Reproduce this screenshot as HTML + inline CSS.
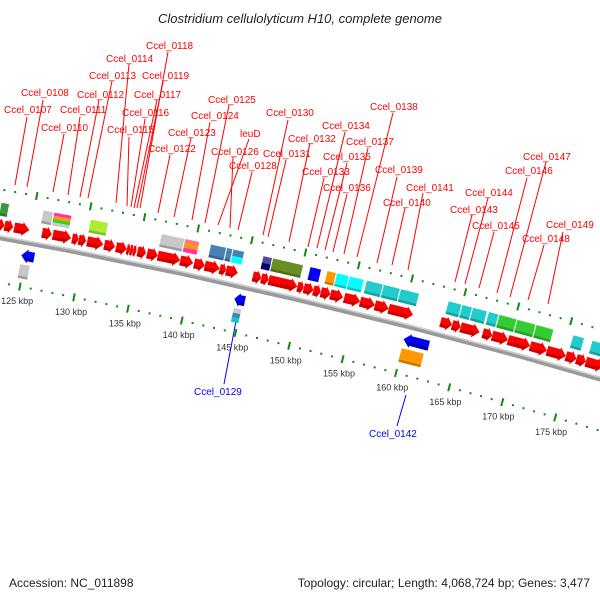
<!DOCTYPE html>
<html><head><meta charset="utf-8"><style>
html,body{margin:0;padding:0;background:#fff;}
svg{display:block;font-family:"Liberation Sans",sans-serif;}
</style></head><body>
<svg id="chart" width="600" height="600" viewBox="0 0 600 600">
<text x="300" y="23" text-anchor="middle" font-size="13" font-style="italic" fill="#222">Clostridium cellulolyticum H10, complete genome</text>
<g id="labels"></g>
<g id="map"></g>
<text x="9" y="587" font-size="12" fill="#222">Accession: NC_011898</text>
<text x="590" y="587" font-size="12" fill="#222" text-anchor="end">Topology: circular; Length: 4,068,724 bp; Genes: 3,477</text>
</svg>
<script>
// ---- data (kbp) ----
const fwdStarts=[121.8,122.6,123.5,126.1,127.1,128.9,129.5,130.3,131.9,133.0,134.0,134.3,134.6,135.0,135.9,136.9,139.0,140.3,141.3,142.7,143.3,145.8,146.6,147.3,150.0,150.6,151.5,152.2,153.1,154.4,155.9,157.3,158.6,163.5,164.6,165.4,167.5,168.4,169.9,172.0,173.6,175.4,176.4,177.3];
const fwdEnds=[122.6,123.4,124.9,127.0,128.8,129.5,130.2,131.8,132.9,134.0,134.3,134.6,134.9,135.8,136.9,139.0,140.2,141.3,142.7,143.3,144.4,146.6,147.3,150.0,150.6,151.5,152.2,153.1,154.3,155.9,157.3,158.6,160.9,164.6,165.4,167.2,168.4,169.9,172.0,173.6,175.4,176.4,177.3,179.0];
const fwdBoxStarts=[121.9,125.8,126.8,130.2,136.8,139.0,141.4,142.9,143.5,146.3,147.2,150.7,152.3,153.2,154.4,156.0,157.6,159.2,163.7,165.0,166.0,167.5,168.5,170.2,172.0,175.5,177.3];
const fwdBoxEnds=[122.7,126.8,128.5,131.9,139.0,140.4,142.9,143.5,144.6,147.2,150.1,151.8,153.2,154.4,155.8,157.6,159.2,161.0,165.0,166.0,167.4,168.5,170.2,172.0,173.7,176.6,178.8];
const fwdBoxColors=["#3a9a3a","#c8c8c8","stripeA","#aaee33","#c8c8c8","stripeB","#4682b4","#4682b4","splitC","splitD","#6b8e23","#0000ff","#ff9900","#00ffff","#00ffff","#22cccc","#22cccc","#22cccc","#22cccc","#22cccc","#22cccc","#22cccc","#33cc33","#33cc33","#33cc33","#22cccc","#22cccc"];
const revStarts=[124.6,144.6,160.6];
const revEnds=[125.8,145.6,163.0];
const revBoxStarts=[124.6,144.7,160.6];
const revBoxEnds=[125.6,145.5,162.8];
const revBoxColors=["#c8c8c8","splitE","#ff9900"];
const tickLabels=[125,130,135,140,145,150,155,160,165,170,175];

// ---- geometry ----
const R=6000, a0=10.3*Math.PI/180, U0=29, PX=10.9;
const B0=[0,235];
const C=[B0[0]-R*Math.sin(a0), B0[1]+R*Math.cos(a0)];
function uOf(k){return U0+(k-125)*PX;}
function pt(k,v){const a=a0+uOf(k)/R;const r=R-v;return [C[0]+r*Math.sin(a),C[1]-r*Math.cos(a)];}
// inner (lower) tick row is drawn with slightly wider spacing in the reference
function ptIn(k,v){const u=U0+(k-125)*PX*1.02;const a=a0+u/R;const r=R-(v+(k-125)*0.1);return [C[0]+r*Math.sin(a),C[1]-r*Math.cos(a)];}
const NS='http://www.w3.org/2000/svg';
const map=document.getElementById('map');
function el(tag,attrs,parent){const e=document.createElementNS(NS,tag);for(const k in attrs)e.setAttribute(k,attrs[k]);(parent||map).appendChild(e);return e;}
function poly(pts,fill,parent){return el('polygon',{points:pts.map(p=>p[0].toFixed(1)+','+p[1].toFixed(1)).join(' '),fill:fill},parent);}
function band(k1,k2,v1,v2,fill){const n=6,pts=[];for(let i=0;i<=n;i++)pts.push(pt(k1+(k2-k1)*i/n,v1));for(let i=n;i>=0;i--)pts.push(pt(k1+(k2-k1)*i/n,v2));return poly(pts,fill);}

// backbone
const bb=band(118,182,0,5,'#9a9a9a');


const bbt=band(118,182,0,1.5,'#cfcfcf');



// ticks
function tickRow(v,name,f){
  for(let k=118;k<=182;k++){
    let e;
    if(k%5===0){const p1=f(k,v-4),p2=f(k,v+4);e=el('line',{x1:p1[0],y1:p1[1],x2:p2[0],y2:p2[1],stroke:'#118811','stroke-width':2});}
    else{const p=f(k,v);e=el('rect',{x:p[0]-1,y:p[1]-1,width:2,height:2,fill:'#118811'});}
    
    
  }
}
tickRow(-45,'outer-tick',pt);
tickRow(47,'inner-tick',ptIn);
tickLabels.forEach(k=>{const p=ptIn(k,62);const t=el('text',{x:p[0],y:p[1]+3,'font-size':9,'text-anchor':'middle',fill:'#333'});t.textContent=k+' kbp';
  
  });

// arrows
function arrow(k1,k2,v1,v2,dir,fill,shade){
  const lenPx=(k2-k1)*PX;const hd=Math.min(7,lenPx*0.5)/PX;const vm=(v1+v2)/2;
  let pts;
  if(dir>0){pts=[pt(k1,v1+2),pt(k2-hd,v1+2),pt(k2-hd,v1),pt(k2,vm),pt(k2-hd,v2),pt(k2-hd,v2-2),pt(k1,v2-2)];}
  else{pts=[pt(k2,v1+2),pt(k1+hd,v1+2),pt(k1+hd,v1),pt(k1,vm),pt(k1+hd,v2),pt(k1+hd,v2-2),pt(k2,v2-2)];}
  const g=poly(pts,fill);
  let sp;
  if(dir>0){sp=[pt(k1,vm+2),pt(k2-hd*0.3,vm+1),pt(k2-hd,v2),pt(k2-hd,v2-2),pt(k1,v2-2)];}
  else{sp=[pt(k2,vm+2),pt(k1+hd*0.3,vm+1),pt(k1+hd,v2),pt(k1+hd,v2-2),pt(k2,v2-2)];}
  const s=poly(sp,shade);
  return g;
}
fwdStarts.forEach((s,i)=>{const g=arrow(s,fwdEnds[i],-17,-3,1,'#ff0000','#cc0000');
  
  });
revStarts.forEach((s,i)=>{const g=arrow(s,revEnds[i],9,23,-1,'#0000ff','#0000b0');
  
  });

function cogBox(k1,k2,v1,v2,c){
  const gap=0.05;k1+=gap;k2-=gap;
  const stacks={stripeA:['#ff33aa','#ff9900','#33cc33','#c8c8c8'],stripeB:['#ff7777','#ff9900','#ff33aa'],splitC:['#4682b4','#00ffff'],splitD:['#4b4b9a','#000080'],splitE:['#c8c8c8','#4682b4','#00cccc']};
  if(stacks[c]){const cs=stacks[c];const h=(v2-v1)/cs.length;cs.forEach((cc,j)=>{const b=band(k1,k2,v1+j*h,v1+(j+1)*h,cc);
    
    });}
  else{const b=band(k1,k2,v1,v2,c);
    
    
    const sh=band(k1,k2,v2-2.5,v2,'rgba(0,0,0,0.22)');
    
    }
}
fwdBoxStarts.forEach((s,i)=>cogBox(s,fwdBoxEnds[i],-32,-19,fwdBoxColors[i]));
revBoxStarts.forEach((s,i)=>cogBox(s,revBoxEnds[i],25,39,revBoxColors[i]));

// labels (annotation callouts)
const lab=document.getElementById('labels');
const callouts=[
["Ccel_0107",4,113,27,117,15,185],["Ccel_0108",21,96,43,100,27,187],["Ccel_0110",41,131,64,134,53,192],
["Ccel_0111",60,113,80,117,68,195],["Ccel_0112",77,98,99,100,80,197],["Ccel_0113",89,79,112,81,88,198],
["Ccel_0114",106,62,129,64,116,203],["Ccel_0115",107,133,129,137,127,206],["Ccel_0116",122,116,145,119,131,207],
["Ccel_0117",134,98,157,100,134,208],["Ccel_0119",142,79,163,82,137,208],["Ccel_0118",146,49,168,52,140,208],
["Ccel_0122",148,152,170,155,158,213],["Ccel_0123",168,136,191,138,174,217],["Ccel_0124",191,119,210,122,192,220],
["Ccel_0125",208,103,229,105,205,223],["leuD",240,137,249,139,218,225],["Ccel_0126",211,155,233,157,230,228],
["Ccel_0128",229,169,252,172,238,230],["Ccel_0130",266,116,288,120,263,235],["Ccel_0131",263,157,286,160,268,237],
["Ccel_0132",288,142,310,143,289,242],["Ccel_0133",302,175,324,178,308,247],["Ccel_0134",322,129,345,132,317,248],
["Ccel_0135",323,160,347,163,325,250],["Ccel_0136",323,191,347,194,333,252],["Ccel_0137",346,145,368,148,344,254],
["Ccel_0138",370,110,393,113,357,257],["Ccel_0139",375,173,397,177,377,263],["Ccel_0140",383,206,405,208,392,265],
["Ccel_0141",406,191,423,193,408,270],["Ccel_0143",450,213,472,215,455,282],["Ccel_0144",465,196,488,198,465,284],
["Ccel_0145",472,229,494,232,479,288],["Ccel_0146",505,174,527,178,497,293],["Ccel_0147",523,160,546,162,510,297],
["Ccel_0148",522,242,544,245,528,300],["Ccel_0149",546,228,563,232,548,304]
];
callouts.forEach(c=>{
  const l=el('line',{x1:c[3],y1:c[4],x2:c[5],y2:c[6],stroke:'#ff0000','stroke-width':1},lab);
  
  
  const t=el('text',{x:c[1],y:c[2],'font-size':10,fill:'#ff0000'},lab);t.textContent=c[0];
  
  
});
const blue=[["Ccel_0129",194,395,236,321,224,384],["Ccel_0142",369,437,406,395,397,426]];
blue.forEach(c=>{
  const l=el('line',{x1:c[3],y1:c[4],x2:c[5],y2:c[6],stroke:'#0000ff','stroke-width':1},lab);
  
  
  const t=el('text',{x:c[1],y:c[2],'font-size':10,fill:'#0000ff'},lab);t.textContent=c[0];
  
  
});
</script>
</body></html>
